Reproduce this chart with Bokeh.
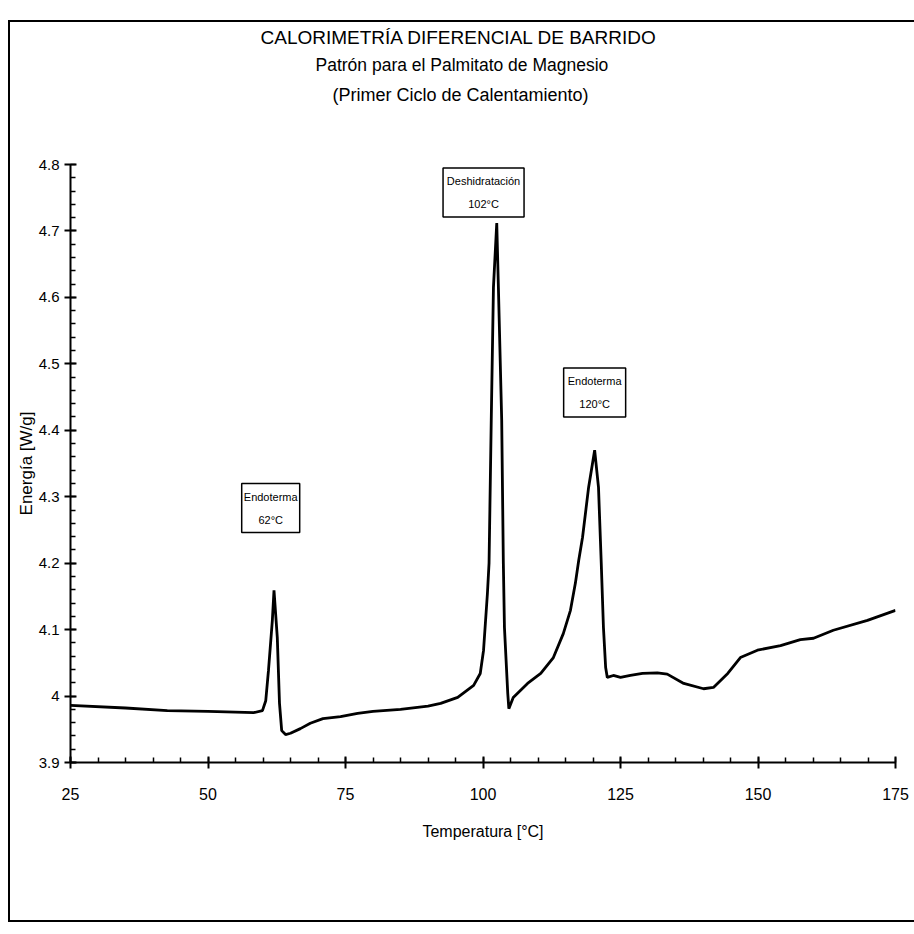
from bokeh.plotting import figure
from bokeh.models import (Range1d, FixedTicker, CustomJSTickFormatter,
                          Title, ColumnDataSource)
from bokeh.core.properties import value
from bokeh.embed import file_html
from bokeh.resources import INLINE

# ---------------- data ----------------
temperature = [25, 35, 42.6, 50, 58.3, 59.9, 60.5, 61.0, 61.7, 62.0, 62.6, 63.0,
               63.4, 64.1, 65.0, 66.8, 68.6, 70.9, 74.1, 77.2, 80, 85, 90, 92.3,
               95.4, 98.3, 99.5, 100.1, 100.8, 101.1, 101.5, 101.9, 102.5, 102.8,
               103.4, 103.7, 103.9, 104.5, 104.7, 105.5, 108.1, 110.5, 112.8,
               114.6, 115.9, 116.8, 117.4, 118.1, 119.2, 120.3, 121.0, 121.5,
               121.9, 122.3, 122.6, 123.7, 125, 126.8, 129, 131.7, 133.5, 136.5,
               140.1, 141.9, 144.5, 146.8, 149.9, 154.1, 157.7, 160.1, 163.7,
               169.9, 175]
energy = [3.986, 3.982, 3.978, 3.977, 3.975, 3.978, 3.993, 4.039, 4.114, 4.159,
          4.088, 3.989, 3.948, 3.942, 3.944, 3.951, 3.959, 3.966, 3.969, 3.974,
          3.977, 3.980, 3.985, 3.989, 3.998, 4.016, 4.034, 4.069, 4.154, 4.200,
          4.415, 4.615, 4.712, 4.615, 4.415, 4.200, 4.103, 4.004, 3.981, 3.998,
          4.019, 4.034, 4.058, 4.094, 4.129, 4.170, 4.204, 4.239, 4.314, 4.370,
          4.314, 4.200, 4.103, 4.043, 4.028, 4.031, 4.028, 4.031, 4.034, 4.035,
          4.033, 4.019, 4.011, 4.013, 4.034, 4.058, 4.069, 4.076, 4.085, 4.087,
          4.099, 4.114, 4.129]

x_ticks = [25, 50, 75, 100, 125, 150, 175]
y_ticks = [3.9, 4.0, 4.1, 4.2, 4.3, 4.4, 4.5, 4.6, 4.7, 4.8]

ann_x = [61.4, 100.1, 120.3]
ann_y = [4.283, 4.758, 4.457]
ann_line1 = ["Endoterma", "Deshidratación", "Endoterma"]
ann_line2 = ["62°C", "102°C", "120°C"]

title_lines = ["CALORIMETRÍA DIFERENCIAL DE BARRIDO",
               "Patrón para el Palmitato de Magnesio",
               "(Primer Ciclo de Calentamiento)"]
x_label = "Temperatura [°C]"
y_label = "Energía [W/g]"

# ---------------- styles ----------------
FONT = "Liberation Sans"
box_w = [58, 81, 62]

x_minor = [x_ticks[0] + 5 * i for i in range(31)]
y_minor = [round(y_ticks[0] + 0.02 * i, 2) for i in range(46)]

p = figure(width=904, height=898,
           x_range=Range1d(25, 175), y_range=Range1d(3.9, 4.8),
           output_backend="svg", toolbar_location=None,
           min_border_left=60, min_border_right=19,
           min_border_top=142, min_border_bottom=158)
p.margin = (22, 0, 0, 10)
p.styles = {"outline": "2px solid black"}
p.outline_line_color = None
p.xgrid.visible = False
p.ygrid.visible = False
p.background_fill_color = "white"
p.border_fill_color = "white"

# spacer between frame and the title block
p.add_layout(Title(text=" ", text_font_size="10px", standoff=44), "above")
# titles (added innermost first): line 3, line 2, line 1
title_sizes = ["18px", "17.5px", "19px"]
title_standoffs = [6, 10, 0]
title_offsets = [262, 245, 190]
for txt, fs, so, off in zip(reversed(title_lines), title_sizes,
                            title_standoffs, title_offsets):
    p.add_layout(Title(text=txt, align="left", offset=off, text_font=FONT,
                       text_font_size=fs, text_font_style="normal",
                       text_color="black", standoff=so), "above")

# axes
xa = p.xaxis[0]
xa.ticker = FixedTicker(ticks=x_ticks, minor_ticks=x_minor)
ya = p.yaxis[0]
ya.ticker = FixedTicker(ticks=y_ticks, minor_ticks=y_minor)
ya.formatter = CustomJSTickFormatter(code="return String(Number(tick.toFixed(1)));")

for ax in (xa, ya):
    ax.axis_line_width = 2
    ax.axis_line_color = "black"
    ax.major_tick_in = 6
    ax.major_tick_out = 6
    ax.major_tick_line_width = 2
    ax.minor_tick_in = 5
    ax.minor_tick_out = 0
    ax.minor_tick_line_width = 1.5
    ax.major_label_text_font = FONT
    ax.major_label_text_color = "black"
    ax.axis_label_text_font = FONT
    ax.axis_label_text_font_style = "normal"
    ax.axis_label_text_color = "black"

xa.major_label_text_font_size = "16px"
xa.major_label_standoff = 19
xa.axis_label = x_label
xa.axis_label_text_font_size = "16px"
xa.axis_label_standoff = 20

ya.major_label_text_font_size = "15px"
ya.major_label_standoff = 5
ya.axis_label = y_label
ya.axis_label_text_font_size = "17px"
ya.axis_label_standoff = 0

# curve
p.line(temperature, energy, line_color="black", line_width=2.8)

# annotation boxes
src = ColumnDataSource(dict(x=ann_x, y=ann_y, l1=ann_line1, l2=ann_line2, w=box_w))
p.rect(x="x", y="y", width="w", height=49, width_units="screen",
       height_units="screen", fill_color="white", line_color="black",
       line_width=1.5, source=src)
p.text(x="x", y="y", text="l1", y_offset=-11, text_align="center",
       text_baseline="middle", text_font=value(FONT), text_font_size="11px",
       text_color="black", source=src)
p.text(x="x", y="y", text="l2", y_offset=12, text_align="center",
       text_baseline="middle", text_font=value(FONT), text_font_size="11px",
       text_color="black", source=src)

open("out.html", "w").write(file_html(p, INLINE))
